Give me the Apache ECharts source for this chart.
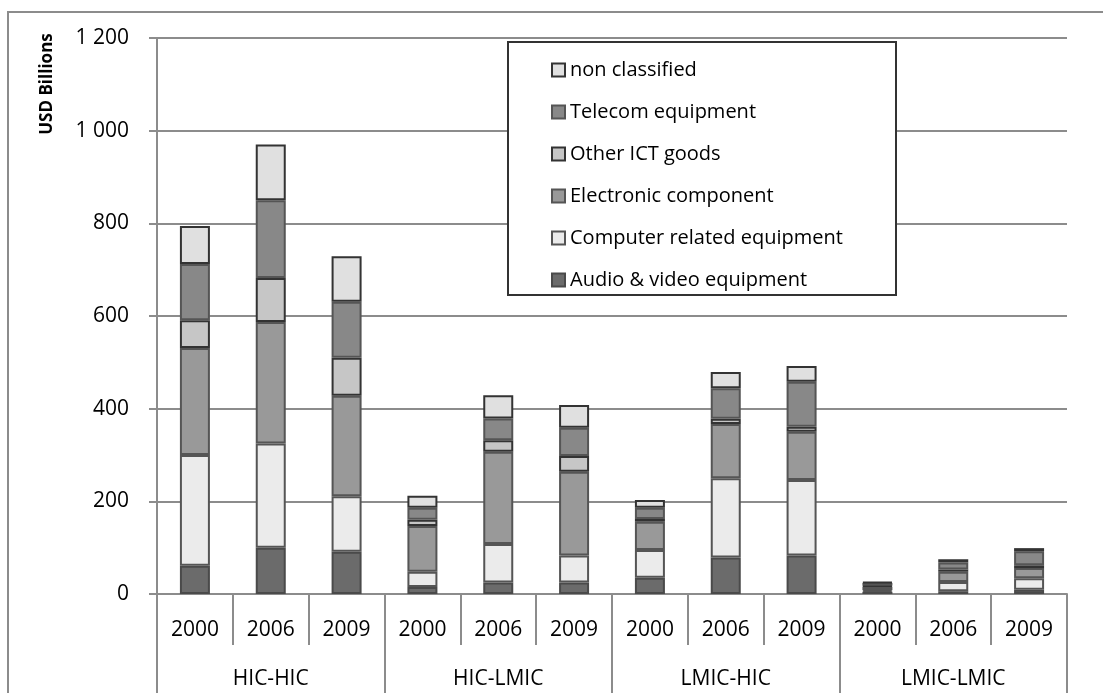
<!DOCTYPE html>
<html>
<head>
<meta charset="utf-8">
<script src="https://cdn.jsdelivr.net/npm/echarts@6/dist/echarts.min.js"></script>
<style>
  html, body { margin: 0; padding: 0; background: #fff; }
  #chart { width: 1103px; height: 693px; }
</style>
</head>
<body>
<div id="chart"></div>
<script>
var years = ['2000', '2006', '2009', '2000', '2006', '2009', '2000', '2006', '2009', '2000', '2006', '2009'];
var groups = ['HIC-HIC', 'HIC-LMIC', 'LMIC-HIC', 'LMIC-LMIC'];

// USD billions
var audio         = [61, 100, 91, 15, 25, 25, 35, 79, 83, 5, 6, 9];
var computer      = [239, 225, 120, 33, 83, 58, 60, 171, 163, 3, 20, 25];
var electronic    = [231, 262, 217, 99, 199, 181, 61, 117, 104, 8, 22, 22];
var otherIct      = [60, 95, 82, 13, 25, 34, 6, 11, 11, 2, 5, 6];
var telecom       = [121, 168, 121, 26, 47, 61, 24, 66, 97, 6, 15, 30];
var nonClassified = [82, 120, 98, 26, 50, 49, 17, 35, 34, 2, 7, 7];

var chart = echarts.init(document.getElementById('chart'));
var font = '"Open Sans", sans-serif';
var lineGray = '#8c8c8c';

function bar(name, data, color, border) {
	return {
		name: name,
		type: 'bar',
		stack: 'total',
		barWidth: 30,
		xAxisIndex: 0,
		data: data,
		itemStyle: { color: color, borderColor: border, borderWidth: 2 },
		emphasis: { disabled: true }
	};
}

var option = {
	animation: false,
	grid: { left: 157, right: 36, top: 38, bottom: 99 },
	legend: {
		orient: 'vertical',
		left: 546,
		top: 54,
		itemWidth: 13,
		itemHeight: 13,
		itemGap: 20,
		icon: 'rect',
		textStyle: { fontFamily: font, fontSize: 20, color: '#000', lineHeight: 22 },
		data: ['non classified', 'Telecom equipment', 'Other ICT goods',
			'Electronic component', 'Computer related equipment', 'Audio & video equipment']
	},
	graphic: [
		{
			type: 'rect', z: 0, silent: true,
			shape: { x: 8, y: 12, width: 1200, height: 1000 },
			style: { fill: 'none', stroke: lineGray, lineWidth: 2 }
		},
		{
			type: 'rect', z: 3, silent: true,
			shape: { x: 508, y: 42, width: 388, height: 253 },
			style: { fill: '#fff', stroke: '#333', lineWidth: 2 }
		},
		{
			type: 'text', silent: true,
			x: 47, y: 84, rotation: Math.PI / 2,
			style: {
				text: 'USD Billions', fontFamily: font, fontWeight: 'bold', fontSize: 17,
				fill: '#000', align: 'center', verticalAlign: 'middle'
			}
		}
	],
	xAxis: [
		{
			type: 'category',
			data: years,
			position: 'bottom',
			axisLine: { lineStyle: { color: lineGray, width: 2 } },
			axisTick: { show: true, interval: 0, alignWithLabel: false, length: 51, lineStyle: { color: lineGray, width: 2 } },
			axisLabel: { margin: 26, fontFamily: font, fontSize: 21, color: '#000', interval: 0 }
		},
		{
			type: 'category',
			data: groups,
			position: 'bottom',
			axisLine: { show: false },
			axisTick: { show: true, interval: 0, alignWithLabel: false, length: 100, lineStyle: { color: lineGray, width: 2 } },
			axisLabel: { margin: 75, fontFamily: font, fontSize: 21, color: '#000', interval: 0 }
		}
	],
	yAxis: {
		type: 'value',
		min: 0,
		max: 1200,
		interval: 200,
		axisLine: { show: true, lineStyle: { color: lineGray, width: 2 } },
		axisTick: { show: true, length: 8, lineStyle: { color: lineGray, width: 2 } },
		splitLine: { lineStyle: { color: lineGray, width: 2 } },
		axisLabel: {
			margin: 28, fontFamily: font, fontSize: 21, color: '#000',
			formatter: function (v) {
				return v >= 1000 ? Math.floor(v / 1000) + ' ' + String(v % 1000).padStart(3, '0') : String(v);
			}
		}
	},
	series: [
		bar('Audio & video equipment', audio, '#6b6b6b', '#4a4a4a'),
		bar('Computer related equipment', computer, '#ebebeb', '#555555'),
		bar('Electronic component', electronic, '#999999', '#555555'),
		bar('Other ICT goods', otherIct, '#c6c6c6', '#333333'),
		bar('Telecom equipment', telecom, '#888888', '#555555'),
		bar('non classified', nonClassified, '#e0e0e0', '#333333')
	]
};
chart.setOption(option);
</script>
</body>
</html>
